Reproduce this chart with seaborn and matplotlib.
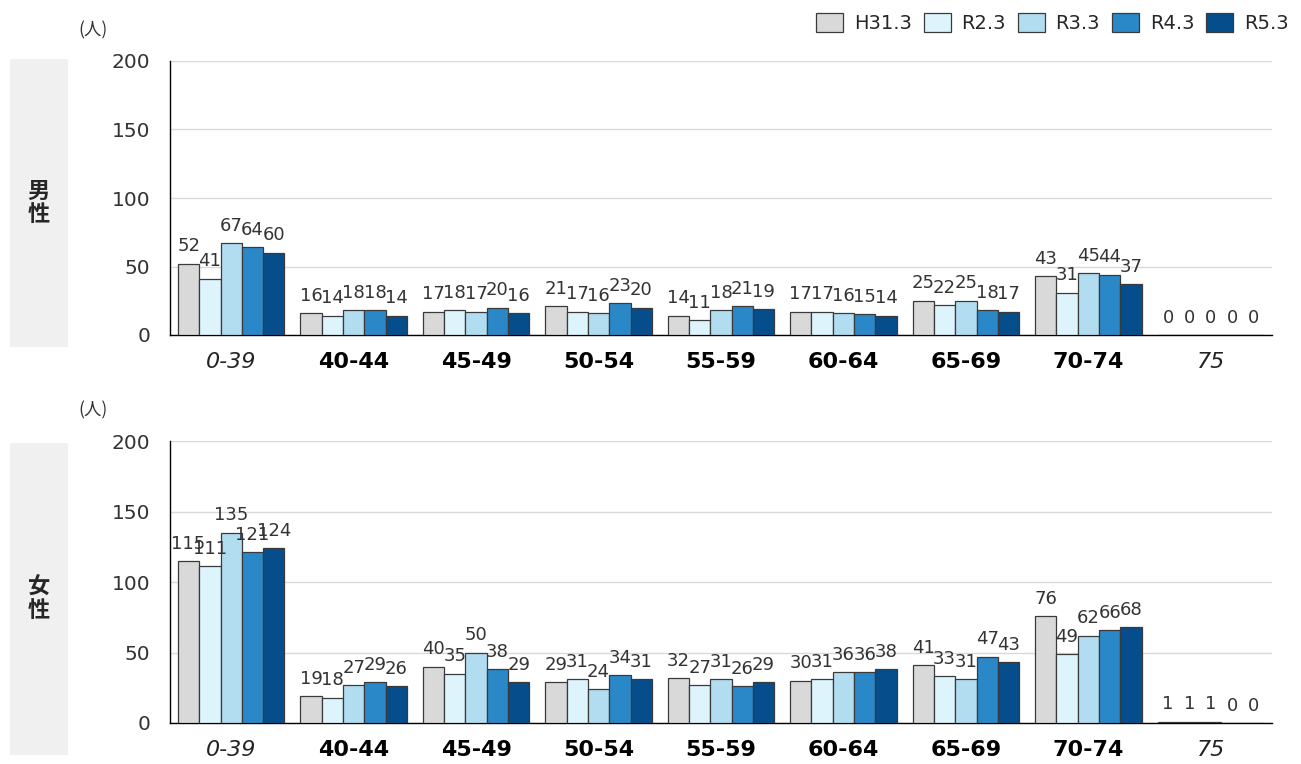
import numpy as np
import pandas as pd
import matplotlib
matplotlib.use("Agg")
import matplotlib.pyplot as plt
from matplotlib.patches import Rectangle
import seaborn as sns

age_groups = ["0-39", "40-44", "45-49", "50-54", "55-59", "60-64", "65-69", "70-74", "75"]
periods = ["H31.3", "R2.3", "R3.3", "R4.3", "R5.3"]
period_colors = ["#d9d9d9", "#ddf4fc", "#b2dcef", "#2b88c8", "#064e8b"]

male_counts = [
    [52, 41, 67, 64, 60],
    [16, 14, 18, 18, 14],
    [17, 18, 17, 20, 16],
    [21, 17, 16, 23, 20],
    [14, 11, 18, 21, 19],
    [17, 17, 16, 15, 14],
    [25, 22, 25, 18, 17],
    [43, 31, 45, 44, 37],
    [0, 0, 0, 0, 0],
]
female_counts = [
    [115, 111, 135, 121, 124],
    [19, 18, 27, 29, 26],
    [40, 35, 50, 38, 29],
    [29, 31, 24, 34, 31],
    [32, 27, 31, 26, 29],
    [30, 31, 36, 36, 38],
    [41, 33, 31, 47, 43],
    [76, 49, 62, 66, 68],
    [1, 1, 1, 0, 0],
]
sex_labels = ["男\n性", "女\n性"]
unit_label = "(人)"
y_ticks = [0, 50, 100, 150, 200]

sns.set_theme(style="white")
plt.rcParams["font.family"] = ["DejaVu Sans", "Noto Sans CJK JP"]


def to_frame(counts):
    rows = []
    for age, vals in zip(age_groups, counts):
        for p, v in zip(periods, vals):
            rows.append({"age": age, "period": p, "count": v})
    return pd.DataFrame(rows)


fig = plt.figure(figsize=(13.01, 7.64), dpi=100)
W, H = 1301, 764

panels = [
    # counts, axes box in px (left, top, right, bottom), side panel box in px, sex label
    (male_counts, (170, 61, 1272, 335), (10, 59, 68, 347), sex_labels[0]),
    (female_counts, (170, 441, 1272, 723), (10, 443, 68, 755), sex_labels[1]),
]

axes = []
for i, (counts, (l, t, r, b), (pl, pt, pr, pb), sex) in enumerate(panels):
    # grey side panel with the sex label
    fig.patches.append(Rectangle((pl / W, 1 - pb / H), (pr - pl) / W, (pb - pt) / H,
                                 transform=fig.transFigure, facecolor="#f0f0f0",
                                 edgecolor="none", zorder=0))
    fig.text((pl + pr) / 2 / W, 1 - (pt + pb) / 2 / H, sex, ha="center", va="center",
             fontsize=16, fontweight="bold", linespacing=1.0,
             family=["Noto Sans CJK JP", "DejaVu Sans"])

    ax = fig.add_axes([l / W, 1 - b / H, (r - l) / W, (b - t) / H])
    axes.append(ax)
    df = to_frame(counts)
    sns.barplot(data=df, x="age", y="count", hue="period", order=age_groups,
                hue_order=periods, palette=period_colors, width=0.87, gap=0,
                edgecolor="#3a3a3a", linewidth=0.9, saturation=1, ax=ax,
                legend=(i == 0), zorder=3)
    for cont in ax.containers:
        ax.bar_label(cont, fmt="%d", padding=6, fontsize=13, color="#333333")

    ax.set_ylim(0, 200)
    ax.set_xlim(-0.5, len(age_groups) - 0.5)
    ax.set_yticks(y_ticks)
    ax.yaxis.grid(True, color="#d9d9d9", linewidth=1.0, zorder=0)
    ax.set_axisbelow(True)
    for s in ["top", "right"]:
        ax.spines[s].set_visible(False)
    for s in ["left", "bottom"]:
        ax.spines[s].set_color("black")
        ax.spines[s].set_linewidth(1.0)
    ax.tick_params(axis="y", which="major", direction="out", length=8, width=1,
                   color="black", labelsize=14.5, labelcolor="#333333", pad=6)
    ax.set_yticklabels([str(v) for v in y_ticks])
    ax.set_xticks(np.arange(-0.5, len(age_groups)), minor=True)
    ax.tick_params(axis="x", which="minor", direction="out", length=8, width=1, color="black")
    ax.tick_params(axis="x", which="major", length=0, pad=12)
    ax.set_xticks(range(len(age_groups)))
    ax.set_xticklabels(age_groups)
    for j, lab in enumerate(ax.get_xticklabels()):
        if j in (0, len(age_groups) - 1):
            lab.set_fontstyle("italic")
            lab.set_fontweight("normal")
            lab.set_color("#222222")
            lab.set_fontsize(16)
        else:
            lab.set_fontweight("bold")
            lab.set_color("black")
            lab.set_fontsize(16)
    ax.set_xlabel("")
    ax.set_ylabel("")
    fig.text(93 / W, 1 - (t - 31) / H, unit_label, ha="center", va="center",
             fontsize=12.5, color="#333333",
             family=["Noto Sans CJK JP", "DejaVu Sans"])

# legend along the top right
handles, labels = axes[0].get_legend_handles_labels()
axes[0].get_legend().remove()
fig.legend(handles, labels, loc="upper right", bbox_to_anchor=(1.0, 1.0), ncol=5,
           frameon=False, handlelength=1.4, handleheight=1.15,
           handletextpad=0.55, columnspacing=0.6, borderaxespad=0.25,
           prop={"family": ["DejaVu Sans"], "size": 14})

fig.savefig("out.png", dpi=100)
